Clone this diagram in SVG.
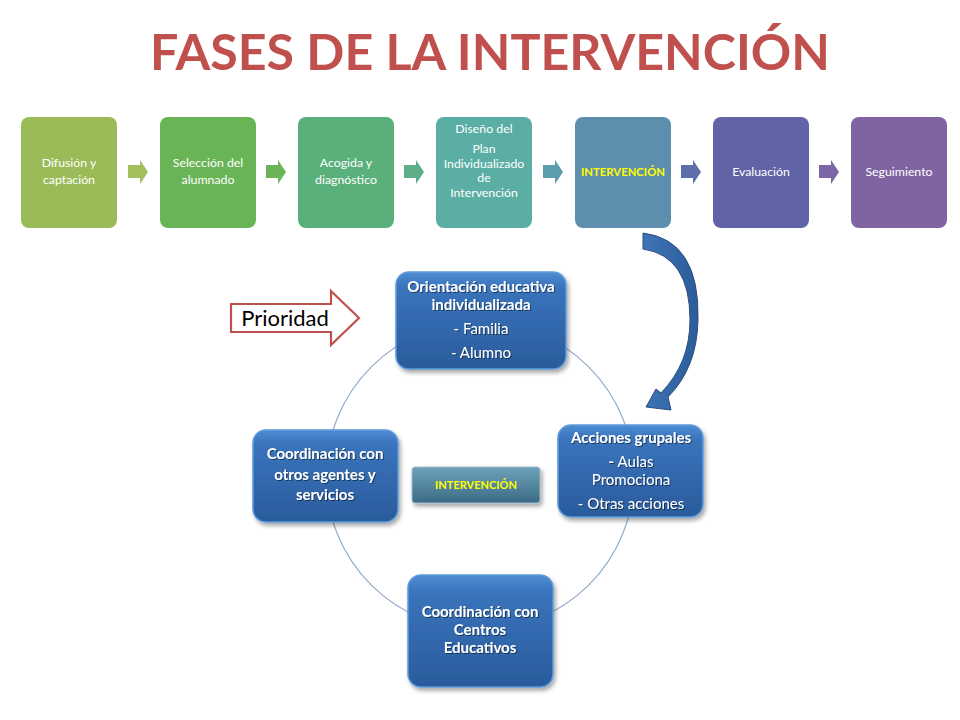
<svg xmlns="http://www.w3.org/2000/svg" width="960" height="720" viewBox="0 0 960 720">
<style>
.t{font-family:Lato,"Open Sans","Liberation Sans",sans-serif;}
.bt{font-family:Lato,"Open Sans","Liberation Sans",sans-serif;font-size:12.3px;fill:#ffffff;text-anchor:middle;}
.nt{font-family:Lato,"Open Sans","Liberation Sans",sans-serif;font-size:15px;fill:#ffffff;text-anchor:middle;}
.b{font-weight:bold;}
.node{fill:url(#ng);stroke:#5E9BDA;stroke-width:1.5;filter:url(#sh);}
</style>
<defs>
<linearGradient id="ng" x1="0" y1="0" x2="0" y2="1">
<stop offset="0" stop-color="#4F8DD3"/>
<stop offset="0.15" stop-color="#3A74BC"/>
<stop offset="1" stop-color="#2A5B9C"/>
</linearGradient>
<linearGradient id="ig" x1="0" y1="0" x2="0" y2="1">
<stop offset="0" stop-color="#6FA2BA"/>
<stop offset="1" stop-color="#3B6B84"/>
</linearGradient>
<linearGradient id="cg" x1="0" y1="0" x2="1" y2="0">
<stop offset="0" stop-color="#3E74B6"/>
<stop offset="1" stop-color="#2C5C99"/>
</linearGradient>
<filter id="sh" x="-20%" y="-20%" width="140%" height="150%">
<feDropShadow dx="2" dy="3" stdDeviation="2" flood-color="#000000" flood-opacity="0.35"/>
</filter>
<filter id="ts" x="-10%" y="-30%" width="120%" height="160%">
<feDropShadow dx="1" dy="1" stdDeviation="0.6" flood-color="#000000" flood-opacity="0.5"/>
</filter>
</defs>
<rect width="960" height="720" fill="#ffffff"/>

<text id="title" class="t b" x="490" y="70" font-size="50" fill="#C0504D" text-anchor="middle" textLength="680" lengthAdjust="spacingAndGlyphs">FASES DE LA INTERVENCIÓN</text>

<g id="connectors">
<circle cx="480" cy="476" r="154" fill="none" stroke="#93ACC9" stroke-width="1.2"/>
<path d="M128,165 H140 V160 L148,172 L140,184 V178 H128 Z" fill="#A2BF5E"/>
<path d="M266,165 H278 V160 L286,172 L278,184 V178 H266 Z" fill="#6BB458"/>
<path d="M404,165 H416 V160 L424,172 L416,184 V178 H404 Z" fill="#5CAF88"/>
<path d="M543,165 H555 V160 L563,172 L555,184 V178 H543 Z" fill="#5B9DAF"/>
<path d="M681,165 H693 V160 L701,172 L693,184 V178 H681 Z" fill="#5F6FAB"/>
<path d="M819,165 H831 V160 L839,172 L831,184 V178 H819 Z" fill="#7D66A6"/>
<path d="M643,233 Q700,240 698,320 Q697,368 668,397 L671,410 L646,407 L656,389 L661,393 Q690,363 690,320 Q690,256 643,249 Z" fill="url(#cg)" stroke="#2A4E80" stroke-width="1"/>
</g>

<g id="prioridad">
<path d="M231,304 H331 V291 L359,318 L331,345 V332 H231 Z" fill="#ffffff" stroke="#C0504D" stroke-width="2.2"/>
<text class="t" x="285" y="326" font-size="22" fill="#000000" text-anchor="middle">Prioridad</text>
</g>

<g id="p1"><rect x="21" y="117" width="96" height="111" rx="8" fill="#9BBB59"/>
<text class="bt" x="69" y="167">Difusión y</text><text class="bt" x="69" y="184">captación</text></g>
<g id="p2"><rect x="160" y="117" width="96" height="111" rx="8" fill="#69B456"/>
<text class="bt" x="208" y="167">Selección del</text><text class="bt" x="208" y="184">alumnado</text></g>
<g id="p3"><rect x="298" y="117" width="96" height="111" rx="8" fill="#5AB07B"/>
<text class="bt" x="346" y="167">Acogida y</text><text class="bt" x="346" y="184">diagnóstico</text></g>
<g id="p4"><rect x="436" y="117" width="96" height="111" rx="8" fill="#5BAEA3"/>
<text class="bt" x="484" y="133">Diseño del</text><text class="bt" x="484" y="153">Plan</text><text class="bt" x="484" y="168">Individualizado</text><text class="bt" x="484" y="182">de</text><text class="bt" x="484" y="197">Intervención</text></g>
<g id="p5"><rect x="575" y="117" width="96" height="111" rx="8" fill="#5E8EAE"/>
<text class="t b" x="623" y="176" font-size="11.3" fill="#FFFF00" text-anchor="middle">INTERVENCIÓN</text></g>
<g id="p6"><rect x="713" y="117" width="96" height="111" rx="8" fill="#6063A6"/>
<text class="bt" x="761" y="176">Evaluación</text></g>
<g id="p7"><rect x="851" y="117" width="96" height="111" rx="8" fill="#8064A2"/>
<text class="bt" x="899" y="176">Seguimiento</text></g>

<g id="n-orientacion"><rect class="node" x="396" y="272" width="170" height="97" rx="13"/>
<g filter="url(#ts)"><text class="nt b" x="481" y="292">Orientación educativa</text><text class="nt b" x="481" y="310">individualizada</text>
<text class="nt" x="481" y="334">- Familia</text><text class="nt" x="481" y="358">- Alumno</text></g></g>

<g id="n-acciones"><rect class="node" x="558" y="425" width="145" height="92" rx="13"/>
<g filter="url(#ts)"><text class="nt b" x="631" y="443">Acciones grupales</text>
<text class="nt" x="631" y="467"><tspan class="b">-</tspan> Aulas</text><text class="nt" x="631" y="485">Promociona</text><text class="nt" x="631" y="509">- Otras acciones</text></g></g>

<g id="n-coord-agentes"><rect class="node" x="253" y="430" width="145" height="92" rx="13"/>
<g filter="url(#ts)"><text class="nt b" x="325" y="459">Coordinación con</text><text class="nt b" x="325" y="480">otros agentes y</text><text class="nt b" x="325" y="500">servicios</text></g></g>

<g id="n-coord-centros"><rect class="node" x="408" y="575" width="145" height="112" rx="13"/>
<g filter="url(#ts)"><text class="nt b" x="480" y="617">Coordinación con</text><text class="nt b" x="480" y="635">Centros</text><text class="nt b" x="480" y="653">Educativos</text></g></g>

<g id="n-intervencion"><rect x="412" y="467" width="128" height="36" rx="3" fill="url(#ig)" stroke="#9BBCCD" stroke-width="1" filter="url(#sh)"/>
<text class="t b" x="476" y="489" font-size="11" fill="#FFFF00" text-anchor="middle">INTERVENCIÓN</text></g>
</svg>
